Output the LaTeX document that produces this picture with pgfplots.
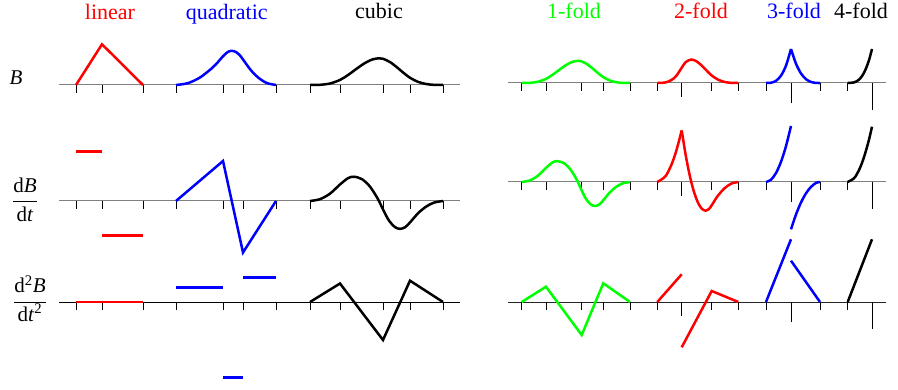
\documentclass[border=0pt]{standalone}
\usepackage{pgfplots}
\pgfplotsset{compat=1.18}
\usepackage{fontspec}
\setmainfont{Liberation Serif}
\newfontfamily\tms{Liberation Serif}
\definecolor{axgray}{RGB}{128,128,128}
\definecolor{cgreen}{RGB}{0,255,0}
\definecolor{cred}{RGB}{255,0,0}
\definecolor{cblue}{RGB}{0,0,255}
\begin{document}
\begin{tikzpicture}
\begin{axis}[
  scale only axis, width=898pt, height=390pt,
  xmin=0, xmax=898, ymin=0, ymax=390, y dir=reverse,
  hide axis, clip=false, unbounded coords=jump,
  every axis plot/.append style={no marks},
  curve/.style={line width=2.5pt},
  tk/.style={black, line width=0.9pt},
]
% ---- axis lines ----
\addplot[axgray, line width=1pt] coordinates {(59,85)(460,85)};
\addplot[axgray, line width=1pt] coordinates {(59,201)(460,201)};
\addplot[black, line width=0.9pt] coordinates {(59,302)(460,302)};
\addplot[axgray, line width=1pt] coordinates {(508,83)(886,83)};
\addplot[axgray, line width=1pt] coordinates {(508,182)(886,182)};
\addplot[black!85, line width=0.9pt] coordinates {(508,302)(886,302)};
% ---- ticks left ----
\addplot[tk] coordinates {(76,85)(76,93) (nan,nan) (102,85)(102,93) (nan,nan) (143,85)(143,93) (nan,nan) (176,85)(176,93) (nan,nan) (223,85)(223,93) (nan,nan) (243,85)(243,93) (nan,nan) (276,85)(276,93) (nan,nan) (310,85)(310,93) (nan,nan) (340,85)(340,93) (nan,nan) (383,85)(383,93) (nan,nan) (410,85)(410,93) (nan,nan) (443,85)(443,93)};
\addplot[tk] coordinates {(76,201)(76,209) (nan,nan) (102,201)(102,209) (nan,nan) (143,201)(143,209) (nan,nan) (176,201)(176,209) (nan,nan) (223,201)(223,209) (nan,nan) (243,201)(243,209) (nan,nan) (276,201)(276,209) (nan,nan) (310,201)(310,209) (nan,nan) (340,201)(340,209) (nan,nan) (383,201)(383,209) (nan,nan) (410,201)(410,209) (nan,nan) (443,201)(443,209)};
\addplot[tk] coordinates {(76,302)(76,310) (nan,nan) (102,302)(102,310) (nan,nan) (143,302)(143,310) (nan,nan) (176,302)(176,310) (nan,nan) (223,302)(223,310) (nan,nan) (243,302)(243,310) (nan,nan) (276,302)(276,310) (nan,nan) (310,302)(310,310) (nan,nan) (340,302)(340,310) (nan,nan) (383,302)(383,310) (nan,nan) (410,302)(410,310) (nan,nan) (443,302)(443,310)};
% ---- ticks right ----
\addplot[tk] coordinates {(521.7,83)(521.7,91) (nan,nan) (546,83)(546,91) (nan,nan) (581.7,83)(581.7,91) (nan,nan) (603.3,83)(603.3,91) (nan,nan) (630,83)(630,91) (nan,nan) (657.3,83)(657.3,91) (nan,nan) (681.7,83)(681.7,97) (nan,nan) (711.7,83)(711.7,91) (nan,nan) (738.3,83)(738.3,91) (nan,nan) (766,83)(766,91) (nan,nan) (791,83)(791,103) (nan,nan) (820,83)(820,91) (nan,nan) (847.7,83)(847.7,91) (nan,nan) (872,83)(872,110)};
\addplot[tk] coordinates {(521.7,182)(521.7,190) (nan,nan) (546,182)(546,190) (nan,nan) (581.7,182)(581.7,190) (nan,nan) (603.3,182)(603.3,190) (nan,nan) (630,182)(630,190) (nan,nan) (657.3,182)(657.3,190) (nan,nan) (681.7,182)(681.7,196) (nan,nan) (711.7,182)(711.7,190) (nan,nan) (738.3,182)(738.3,190) (nan,nan) (766,182)(766,190) (nan,nan) (791,182)(791,202) (nan,nan) (820,182)(820,190) (nan,nan) (847.7,182)(847.7,190) (nan,nan) (872,182)(872,209)};
\addplot[tk] coordinates {(521.7,302)(521.7,310) (nan,nan) (546,302)(546,310) (nan,nan) (581.7,302)(581.7,310) (nan,nan) (603.3,302)(603.3,310) (nan,nan) (630,302)(630,310) (nan,nan) (657.3,302)(657.3,310) (nan,nan) (681.7,302)(681.7,316) (nan,nan) (711.7,302)(711.7,310) (nan,nan) (738.3,302)(738.3,310) (nan,nan) (766,302)(766,310) (nan,nan) (791,302)(791,322) (nan,nan) (820,302)(820,310) (nan,nan) (847.7,302)(847.7,310) (nan,nan) (872,302)(872,329)};
% ================= LEFT: linear =================
\addplot[cred, curve] coordinates {(76,85)(102,44.3)(143,85)};
\addplot[cred, curve] coordinates {(76,151.7)(102,151.7)};
\addplot[cred, curve] coordinates {(102,235.7)(143,235.7)};
\addplot[cred, curve] coordinates {(76,302)(143,302)};
% ================= LEFT: quadratic =================
\addplot[cblue, curve, smooth] coordinates {(176,85)(188,83.13)(200,77.50)(212,68.13)(218,62.03)(223,56.24)(228,51.85)(232,50.84)(236,52.04)(240,55.45)(243,59.47)(251,70.35)(259,78.23)(267,83.10)(276,85)};
\addplot[cblue, curve] coordinates {(176,201)(223,161)(243,252.5)(276,201)};
\addplot[cblue, curve] coordinates {(176,287.7)(223,287.7)};
\addplot[cblue, curve] coordinates {(223,377.7)(243,377.7)};
\addplot[cblue, curve] coordinates {(243,277.3)(276,277.3)};
% ================= LEFT: cubic =================
\addplot[black, curve, smooth] coordinates {(310,85)(320,84.81)(330,83.50)(340,79.94)(348,75.03)(356,69.18)(364,63.62)(372,59.59)(379,58.27)(383,58.78)(390,62.06)(397,67.35)(404,73.25)(410,77.76)(418,81.86)(426,84.01)(434,84.85)(443,85)};
\addplot[black, curve, smooth] coordinates {(310,201)(320,199.16)(330,193.66)(340,184.48)(348,178.17)(354,176.73)(362,179.18)(370,186.65)(378,199.12)(383,209.46)(389,220.67)(395,227.12)(400,228.86)(405,227.31)(410,222.45)(418,213.32)(426,206.70)(434,202.60)(443,201)};
\addplot[black, curve] coordinates {(310,302)(340,283.5)(383,340)(410,280.7)(443,302)};
% ================= RIGHT: 1-fold =================
\addplot[cgreen, curve, smooth] coordinates {(521.7,83)(529.8,82.84)(537.9,81.76)(546.1,78.81)(552.6,74.73)(559.2,69.88)(565.7,65.27)(572.2,61.93)(577.9,60.83)(581.1,61.26)(586.8,63.98)(592.5,68.36)(598.2,73.26)(603.1,77.0)(609.6,80.39)(616.1,82.18)(622.6,82.88)(630,83)};
\addplot[cgreen, curve, smooth] coordinates {(521.7,182)(529.8,180.42)(537.9,175.69)(546.1,167.79)(552.6,162.37)(557.5,161.13)(564.0,163.23)(570.6,169.66)(577.1,180.38)(581.1,189.28)(586.0,198.92)(590.9,204.46)(595.0,205.96)(599.1,204.63)(603.1,200.45)(609.6,192.60)(616.1,186.90)(622.6,183.38)(630,182)};
\addplot[cgreen, curve] coordinates {(521.7,302)(546,286.7)(581.7,335)(603.3,283.3)(630,302)};
% ================= RIGHT: 2-fold =================
\addplot[cred, curve, smooth] coordinates {(657.3,83)(665.3,82.46)(671.3,80.12)(676.3,75.80)(681.7,67.75)(685.7,62.10)(691.3,59.53)(696.7,61.42)(701.7,65.56)(706.7,70.68)(711.7,75.50)(718.3,79.81)(725.3,82.12)(731.3,82.86)(738.3,83)};
\addplot[cred, curve, smooth] coordinates {(657.3,182)(665.3,176.46)(671.3,165.03)(676.3,150.74)(681.7,130.44)};
\addplot[cred, curve, smooth] coordinates {(681.7,130.44)(685.7,155.14)(689.7,175.31)(693.7,190.96)(697.7,202.07)(701.7,208.65)(705.7,210.71)(708.7,209.28)(711.7,205.30)(717.3,196.52)(724.3,188.45)(731.3,183.61)(738.3,182)};
\addplot[cred, curve] coordinates {(657.3,302)(681.7,274.3)};
\addplot[cred, curve] coordinates {(681.7,347.3)(711.7,291)(738.3,302)};
% ================= RIGHT: 3-fold =================
\addplot[cblue, curve, smooth] coordinates {(766,83)(771,82.73)(776,80.82)(781,75.66)(786,65.59)(791,49)};
\addplot[cblue, curve, smooth] coordinates {(791,49)(796,63.73)(801,73.44)(806,79.18)(811,81.98)(816,82.91)(820,83)};
\addplot[cblue, curve, smooth] coordinates {(766,182)(771,179.76)(776,173.03)(781,161.83)(786,146.14)(791,125.96)};
\addplot[cblue, curve, smooth] coordinates {(791,229.3)(796,214.5)(801,202.5)(806,193.3)(811,186.9)(816,182.9)(820,182)};
\addplot[cblue, curve] coordinates {(766,302)(791,239.3)};
\addplot[cblue, curve] coordinates {(791,260.7)(820,302)};
% ================= RIGHT: 4-fold =================
\addplot[black, curve, smooth] coordinates {(847.7,83)(853.8,82.47)(856.8,81.21)(859.9,78.75)(862.9,74.70)(865.9,68.66)(869.0,60.22)(872,49)};
\addplot[black, curve, smooth] coordinates {(847.7,182)(853.8,178.54)(856.8,174.22)(859.9,168.18)(862.9,160.40)(865.9,150.89)(869.0,139.66)(872,126.7)};
\addplot[black, curve] coordinates {(847.7,302)(872,239.3)};
% ================= texts =================
\begin{scope}[every node/.style={font=\tms\fontsize{22}{26}\selectfont, inner sep=0pt}]
\node[anchor=base, text=cred] at (axis cs:110,19.5) {linear};
\node[anchor=base, text=cblue] at (axis cs:226.7,19.5) {quadratic};
\node[anchor=base, text=black] at (axis cs:379,19) {cubic};
\node[anchor=base, text=cgreen] at (axis cs:574,19) {1-fold};
\node[anchor=base, text=cred] at (axis cs:701,19) {2-fold};
\node[anchor=base, text=cblue] at (axis cs:794,19) {3-fold};
\node[anchor=base, text=black] at (axis cs:861,19) {4-fold};
\end{scope}
\begin{scope}[every node/.style={font=\tms\fontsize{21}{25}\selectfont, inner sep=0pt}]
\node[anchor=base] at (axis cs:16,84.5) {\textit{B}};
\node[anchor=base] at (axis cs:25,206.8) {$\displaystyle\frac{\mbox{\tms d\textit{B}}}{\mbox{\tms d\textit{t}}}$};
\node[anchor=base] at (axis cs:30,307) {$\displaystyle\frac{\mbox{\tms d\textsuperscript{2}\textit{B}}}{\mbox{\tms d\textit{t}\textsuperscript{2}}}$};
\end{scope}
\end{axis}
\pgfresetboundingbox
\path (0,0) rectangle (898pt,390pt);
\end{tikzpicture}
\end{document}
